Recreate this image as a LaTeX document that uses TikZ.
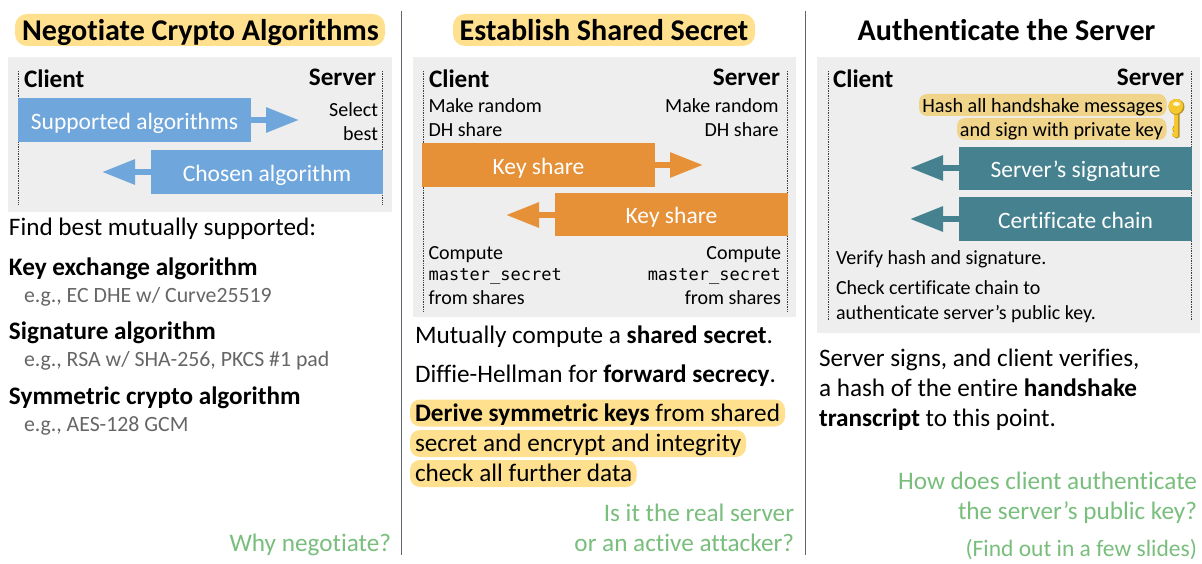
\documentclass[tikz,border=0pt]{standalone}
\usepackage{fontspec}
\setmainfont[RawFeature={-liga;-clig}]{Carlito}
\newfontfamily\monof{DejaVu Sans Mono}
\usetikzlibrary{arrows.meta}
\definecolor{hl}{HTML}{FFE08F}
\definecolor{hlb}{HTML}{EFD48A}
\definecolor{pan}{HTML}{EEEEEE}
\definecolor{cblue}{HTML}{6FA6DC}
\definecolor{corange}{HTML}{E69138}
\definecolor{cteal}{HTML}{45818E}
\definecolor{cgreen}{HTML}{79BE7C}
\definecolor{cgrey}{HTML}{666666}
\definecolor{cdiv}{HTML}{5F6570}
\definecolor{keyy}{HTML}{F5C92E}
\definecolor{keyd}{HTML}{B8922A}
\tikzset{
 x=1pt,y=-1pt,
 txt/.style={inner sep=0pt,outer sep=0pt,text=black,font=\fontsize{#1}{#1}\selectfont,anchor=base west},
 txt/.default=25.2,
 txtr/.style={txt=#1,anchor=base east},
 txtr/.default=25.2,
 bld/.style={inner sep=0pt,outer sep=0pt,text=black,font=\fontsize{25.2}{25.2}\selectfont\bfseries,anchor=base west},
 bldr/.style={bld,anchor=base east},
 ttl/.style={inner sep=0pt,anchor=base,font=\fontsize{30.1}{30.1}\selectfont\bfseries},
 msg/.style={inner sep=0pt,outer sep=0pt,text=white,font=\fontsize{23.5}{23.5}\selectfont,minimum width=233pt,anchor=north west,text height=21pt,text depth=2pt},
 sh/.style={line width=6pt,-{Triangle[length=33pt,width=24pt]},shorten >=0pt},
 life/.style={densely dotted,line width=.7pt,draw=black!75},
 panel/.style={fill=pan,draw=none},
 hilite/.style={fill=hl,rounded corners=10pt,draw=none},
 hiliteb/.style={fill=hlb,rounded corners=8pt,draw=none},
 divd/.style={draw=cdiv,line width=1pt},
}
\begin{document}
\begin{tikzpicture}
\useasboundingbox (0,0) rectangle (1202,564);
\fill[white] (0,0) rectangle (1202,564);
\draw[divd] (401.5,11) -- (401.5,555);
\draw[divd] (805.5,11) -- (805.5,555);
% panel 1
\fill[hilite,rounded corners=12pt] (15,14) rectangle (385,46);
\node[ttl] (t1) at (200.5,41) {Negotiate Crypto Algorithms};
\fill[panel] (8,57) rectangle (392,212);
\draw[life] (18.5,71) -- (18.5,205);
\draw[life] (382.5,71) -- (382.5,205);
\node[bld] (c1) at (24,88) {Client};
\node[bldr] (s1) at (376,86) {Server};
\node[txtr=20] (s1a) at (378,117) {Select};
\node[txtr=20] (s1b) at (378,141) {best};
\node[msg,fill=cblue,minimum height=44pt] (m1) at (18,98) {Supported algorithms};
\node[msg,fill=cblue,minimum height=44pt,minimum width=232pt] (m2) at (151,150) {Chosen algorithm};
\coordinate (a1) at (299,120);
\coordinate (a2) at (102,172);
\draw[sh,cblue] (m1.east |- a1) -- (a1);
\draw[sh,cblue] (m2.west |- a2) -- (a2);
\node[txt] (f1) at (9,236) {Find best mutually supported:};
\node[bld] (h1) at (9,275) {Key exchange algorithm};
\node[txt=21.8,text=cgrey] (e1) at (24,302) {e.g., EC DHE w/ Curve25519};
\node[bld] (h2) at (9,339) {Signature algorithm};
\node[txt=21.8,text=cgrey] (e2) at (24,366) {e.g., RSA w/ SHA-256, PKCS \#1 pad};
\node[bld] (h3) at (9,404) {Symmetric crypto algorithm};
\node[txt=21.8,text=cgrey] (e3) at (24,431) {e.g., AES-128 GCM};
\node[txtr,text=cgreen] (g1) at (391,551) {Why negotiate?};
% panel 2
\fill[hilite,rounded corners=12pt] (453,14) rectangle (755,46);
\node[ttl] (t2) at (604,41) {Establish Shared Secret};
\fill[panel] (413,57) rectangle (796,317);
\draw[life] (423.5,71) -- (423.5,311);
\draw[life] (787.5,71) -- (787.5,311);
\node[bld] (c2) at (429,88) {Client};
\node[bldr] (s2) at (780,86) {Server};
\node[txt=20] (p1) at (428.5,113) {Make random};
\node[txt=20] (p2) at (428.5,137) {DH share};
\node[txtr=20] (p3) at (778.5,113) {Make random};
\node[txtr=20] (p4) at (778.5,137) {DH share};
\node[msg,fill=corange,minimum height=44pt] (m3) at (422,143) {Key share};
\node[msg,fill=corange,minimum height=43pt] (m4) at (555,193) {Key share};
\coordinate (a3) at (703,165);
\coordinate (a4) at (506,215);
\draw[sh,corange] (m3.east |- a3) -- (a3);
\draw[sh,corange] (m4.west |- a4) -- (a4);
\node[txt=20] (p5) at (428.5,259) {Compute};
\node[anchor=base west,inner sep=0pt,font=\monof\fontsize{17}{17}\selectfont] (p6) at (428.5,280) {master\_secret};
\node[txt=20] (p7) at (428.5,304) {from shares};
\node[txtr=20] (p8) at (781,259) {Compute};
\node[anchor=base east,inner sep=0pt,font=\monof\fontsize{17}{17}\selectfont] (p9) at (781,280) {master\_secret};
\node[txtr=20] (p10) at (781,304) {from shares};
\node[txt] (b1) at (415,343) {Mutually compute a \textbf{shared secret}.};
\node[txt] (b2) at (415,382) {Diffie-Hellman for \textbf{forward secrecy}.};
\fill[hilite] (410,399.5) rectangle (785,426.5);
\fill[hilite] (410,430) rectangle (746,457);
\fill[hilite] (410,460) rectangle (636.5,487);
\node[txt] (b3) at (415,421) {\textbf{Derive symmetric keys} from shared};
\node[txt] (b4) at (415,451) {secret and encrypt and integrity};
\node[txt] (b5) at (415,481) {check all further data};
\node[txtr,text=cgreen] (g2) at (794,521) {Is it the real server};
\node[txtr,text=cgreen] (g3) at (794,551) {or an active attacker?};
% panel 3
\node[ttl] (t3) at (1006.5,41) {Authenticate the Server};
\fill[panel] (817,57) rectangle (1200,333);
\draw[life] (828,71) -- (828,320);
\draw[life] (1191.5,71) -- (1191.5,320);
\node[bld] (c3) at (833,88) {Client};
\node[bldr] (s3) at (1184,86) {Server};
\fill[hiliteb] (919,94) rectangle (1166.5,116);
\fill[hiliteb] (957,118) rectangle (1166.5,140);
\node[txtr=20.2] (k1) at (1163,112.5) {Hash all handshake messages};
\node[txtr=20.2] (k2) at (1163,136.5) {and sign with private key};
% key
\begin{scope}[shift={(1176.5,100)}]
\fill[keyd] (-1,13) -- (3,13) -- (3,37) -- (0,38.5) -- (-4,36) -- (-4,34) -- (-2,33) -- (-4,31) -- (-2,29) -- (-4,27) -- (-2,25) -- (-1,24) -- cycle;
\fill[keyy] (-3,13) rectangle (1,37.5);
\fill[keyy] (-4.5,28) rectangle (-2,30.5) (-4.5,33) rectangle (-2,36);
\fill[keyd] (-8,6) .. controls (-8,1) and (-3,-1) .. (0,-1) .. controls (4,-1) and (8,2) .. (8,7) .. controls (8,11) and (4,15) .. (0,15) .. controls (-5,15) and (-8,11) .. (-8,6) -- cycle;
\fill[keyy] (-8,5.5) .. controls (-8,1) and (-3,-1) .. (0,-1) .. controls (4,-1) and (6.5,2) .. (6.5,6) .. controls (6.5,10) and (3,14) .. (-0.5,14) .. controls (-5,14) and (-8,10) .. (-8,5.5) -- cycle;
\fill[white!85!keyy] (0,4) ellipse (3.6 and 2);
\end{scope}
\node[msg,fill=cteal,minimum height=43pt] (m5) at (959,147) {Server’s signature};
\node[msg,fill=cteal,minimum height=44pt] (m6) at (959,197) {Certificate chain};
\coordinate (a5) at (910,168);
\coordinate (a6) at (910,219);
\draw[sh,cteal] (m5.west |- a5) -- (a5);
\draw[sh,cteal] (m6.west |- a6) -- (a6);
\node[txt=20] (v1) at (836,264) {Verify hash and signature.};
\node[txt=20] (v2) at (836,294) {Check certificate chain to};
\node[txt=20] (v3) at (836,319) {authenticate server’s public key.};
\node[txt] (d1) at (819,366) {Server signs, and client verifies,};
\node[txt] (d2) at (819,396) {a hash of the entire \textbf{handshake}};
\node[txt] (d3) at (819,426) {\textbf{transcript} to this point.};
\node[txtr,text=cgreen] (g4) at (1197,489) {How does client authenticate};
\node[txtr,text=cgreen] (g5) at (1197,519) {the server’s public key?};
\node[txtr=23.5,text=cgreen] (g6) at (1197,556) {(Find out in a few slides)};
\end{tikzpicture}
\end{document}
